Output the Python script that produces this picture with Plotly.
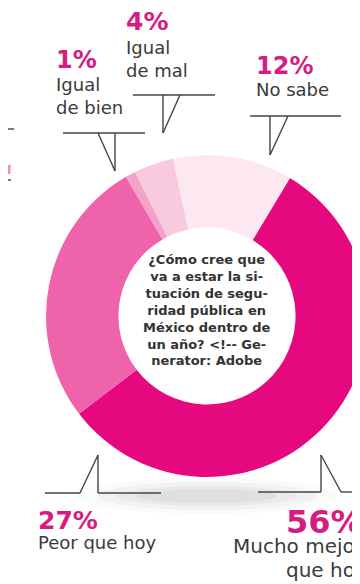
import plotly.graph_objects as go

W, H = 360, 584

labels = ["Mucho mejor que hoy", "Peor que hoy", "Igual de bien", "Igual de mal", "No sabe"]
values = [56, 27, 1, 4, 12]
colors = ["#e5087e", "#ef63aa", "#f3a2c9", "#f8c9df", "#fde8f2"]

center_lines = [
    "¿Cómo cree que",
    "va a estar la si-",
    "tuación de segu-",
    "ridad pública en",
    "México dentro de",
    "un año? &lt;!-- Ge-",
    "nerator: Adobe",
]

PCT = "#d61c80"
TXT = "#3b3b3b"
LINE = "#444444"


def px(x, y):
    return x / W, 1 - y / H


fig = go.Figure()

# shadow under the donut
for rx, ry, op in [(130, 18, 0.02), (110, 14, 0.03), (90, 10, 0.035), (70, 7, 0.04)]:
    cx, cy = 199, 488
    x0, y0 = px(cx - rx, cy - ry)
    x1, y1 = px(cx + rx, cy + ry)
    fig.add_shape(type="circle", xref="paper", yref="paper", x0=x0, y0=y0, x1=x1, y1=y1,
                  fillcolor=f"rgba(0,0,0,{op})", line=dict(width=0), layer="below")

cx, cy, R = 199, 308, 161
fig.add_trace(go.Pie(
    labels=labels, values=values, sort=False, direction="clockwise", rotation=31,
    hole=0.55, marker=dict(colors=colors, line=dict(width=0)),
    textinfo="none", hoverinfo="label+percent", showlegend=False,
    domain=dict(x=[(cx - R) / W, (cx + R) / W], y=[1 - (cy + R) / H, 1 - (cy - R) / H]),
))

# callout lines (pixel coordinates)
segments = [
    # 1%
    [(55, 125), (137, 125)], [(90, 125), (107, 163)], [(107, 125), (107, 163)],
    # 4%
    [(125, 87), (207, 87)], [(155, 87), (155, 125)], [(172, 87), (155, 125)],
    # 12%
    [(242, 108), (333, 108)], [(262, 108), (262, 147)], [(280, 108), (262, 147)],
    # 27%
    [(37, 485), (72, 485)], [(72, 485), (90, 447)], [(90, 447), (90, 485)], [(90, 485), (153, 485)],
    # 56%
    [(250, 484), (313, 484)], [(313, 447), (313, 484)], [(313, 447), (333, 484)], [(333, 484), (362, 484)],
    # fragments of the neighbouring graphic at the left edge
    [(0, 121), (6, 121)], [(0, 172), (3, 172)],
]
for (a, b) in segments:
    x0, y0 = px(*a)
    x1, y1 = px(*b)
    fig.add_shape(type="line", xref="paper", yref="paper", x0=x0, y0=y0, x1=x1, y1=y1,
                  line=dict(color=LINE, width=1.4))
# pink fragment at left edge
fx0, fy0 = px(0, 157)
fx1, fy1 = px(2.5, 166)
fig.add_shape(type="rect", xref="paper", yref="paper", x0=fx0, y0=fy0, x1=fx1, y1=fy1,
              fillcolor="#f08cc0", line=dict(width=0))

FONT = "DejaVu Sans"


def ann(x, y, text, size, color, bold=False, xanchor="left", align="left"):
    ax, ay = px(x, y)
    t = f"<b>{text}</b>" if bold else text
    fig.add_annotation(x=ax, y=ay, xref="paper", yref="paper", text=t, showarrow=False,
                       xanchor=xanchor, yanchor="middle", align=align,
                       font=dict(family=FONT, size=size, color=color))


ann(116, 14, f"{values[3]}%", 25, PCT, bold=True)
ann(116, 51, "Igual<br>de mal", 18, TXT)
ann(46, 52, f"{values[2]}%", 24, PCT, bold=True)
ann(46, 88, "Igual<br>de bien", 18, TXT)
ann(246, 58, f"{values[4]}%", 24, PCT, bold=True)
ann(246, 81, "No sabe", 18, TXT)
ann(28, 512, f"{values[1]}%", 25, PCT, bold=True)
ann(28, 534, "Peor que hoy", 18, TXT)
ann(276, 514, f"{values[0]}%", 32, PCT, bold=True)
ann(223, 538, "Mucho mejor", 20, TXT)
ann(276, 562, "que hoy", 20, TXT)

# center question
cax, cay = px(199, 302)
fig.add_annotation(x=cax, y=cay, xref="paper", yref="paper",
                   text="<br>".join(f"<b>{l}</b>" for l in center_lines),
                   showarrow=False, xanchor="center", yanchor="middle", align="center",
                   font=dict(family=FONT, size=13, color="#333333"))

fig.update_layout(width=W, height=H, margin=dict(l=0, r=0, t=0, b=0),
                  paper_bgcolor="white", plot_bgcolor="white")

fig.write_html("out.html")
